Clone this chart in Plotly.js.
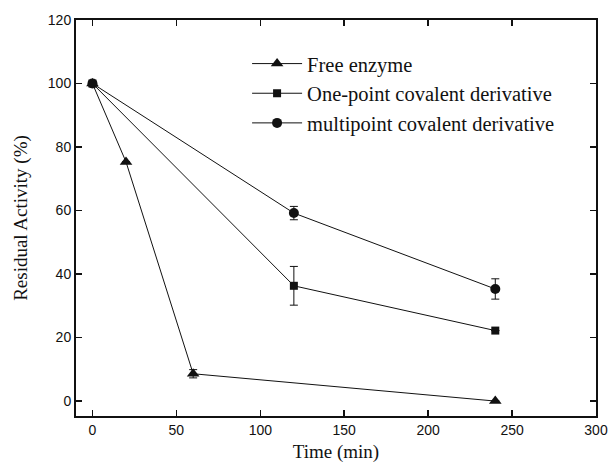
<!DOCTYPE html>
<html>
<head>
<meta charset="utf-8">
<script src="https://cdn.plot.ly/plotly-3.0.1.min.js"></script>
<style>html,body{margin:0;padding:0;background:#fff;}#chart{width:608px;height:474px;}</style>
</head>
<body>
<div id="chart"></div>
<script>
const freeTime = [0, 20, 60, 240];
const freeActivity = [100, 75.3, 8.6, 0];
const freeError = [0, 0, 1.3, 0];

const onePointTime = [0, 120, 240];
const onePointActivity = [100, 36.3, 22.2];
const onePointError = [0, 6.1, 0];

const multiTime = [0, 120, 240];
const multiActivity = [100, 59.2, 35.3];
const multiError = [0, 2.1, 3.2];

const seriesNames = ["Free enzyme", "One-point covalent derivative", "multipoint covalent derivative"];
const xTicks = [0, 50, 100, 150, 200, 250, 300];
const yTicks = [0, 20, 40, 60, 80, 100, 120];

const ink = "#111111";
function series(name, x, y, err, symbol, size) {
  return {
    type: "scatter", mode: "lines+markers", name: name, x: x, y: y,
    line: {color: ink, width: 1},
    marker: {symbol: symbol, size: size, color: ink},
    error_y: {type: "data", array: err, visible: true, color: ink, thickness: 1, width: 4}
  };
}
const data = [
  series(seriesNames[0], freeTime, freeActivity, freeError, "triangle-up", 11),
  series(seriesNames[1], onePointTime, onePointActivity, onePointError, "square", 8),
  series(seriesNames[2], multiTime, multiActivity, multiError, "circle", 10)
];
const axisCommon = {
  showgrid: false, zeroline: false, showline: true, linecolor: ink, linewidth: 2,
  mirror: "ticks", ticks: "inside", ticklen: 6, tickwidth: 1.5, tickcolor: ink,
  tickfont: {family: "Liberation Sans, Arial, sans-serif", size: 14, color: ink}
};
const layout = {
  width: 608, height: 474,
  margin: {l: 76, r: 12, t: 20, b: 58},
  paper_bgcolor: "#fff", plot_bgcolor: "#fff",
  showlegend: true,
  legend: {
    x: 0.329, y: 0.94, xanchor: "left", yanchor: "top",
    bgcolor: "rgba(0,0,0,0)", borderwidth: 0,
    font: {family: "Liberation Serif, Times New Roman, serif", size: 20.5, color: ink},
    itemwidth: 50, tracegroupgap: 0
  },
  xaxis: Object.assign({}, axisCommon, {
    range: [-9.8, 300], tickvals: xTicks, ticktext: xTicks.map(String),
    title: {text: "Time (min)", standoff: 8, font: {family: "Liberation Serif, Times New Roman, serif", size: 19, color: ink}}
  }),
  yaxis: Object.assign({}, axisCommon, {
    range: [-4.7, 120], tickvals: yTicks, ticktext: yTicks.map(String),
    title: {text: "Residual Activity (%)", standoff: 15, font: {family: "Liberation Serif, Times New Roman, serif", size: 19, color: ink}}
  })
};
Plotly.newPlot("chart", data, layout, {displayModeBar: false, staticPlot: true});
</script>
</body>
</html>
